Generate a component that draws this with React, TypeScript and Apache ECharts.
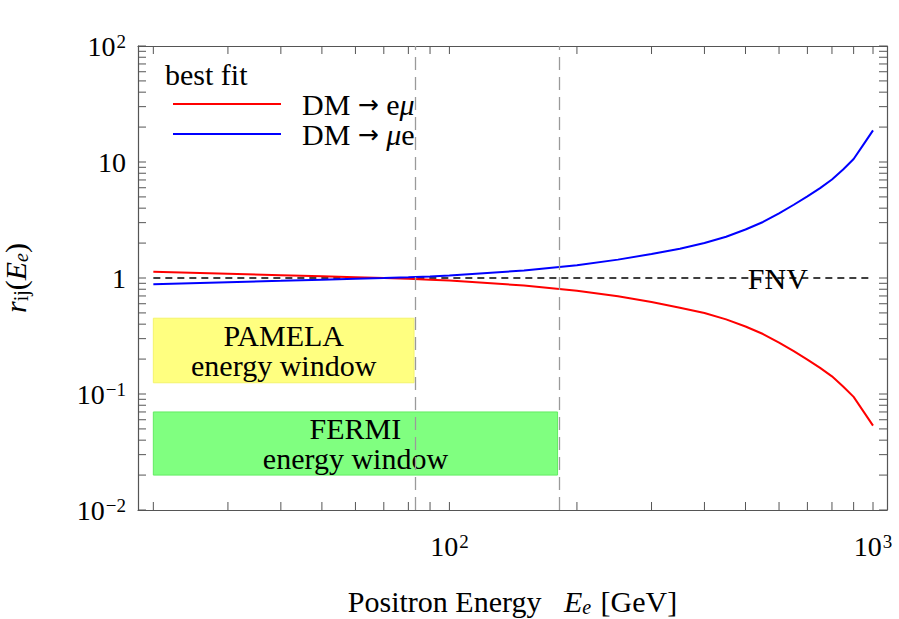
import React, { useEffect, useRef } from "react";
import * as echarts from "echarts";

// ---- data ----
const ENERGY_GEV = [20, 30, 40, 50, 60, 70, 80, 90, 100, 150, 200, 250, 300, 350, 400, 450, 500, 550, 600, 650, 700, 750, 800, 850, 900, 950, 1000];
const RATIO_E_MU = [1.13, 1.088, 1.058, 1.035, 1.016, 1.0, 0.985, 0.968, 0.952, 0.862, 0.775, 0.695, 0.62, 0.555, 0.5, 0.44, 0.382, 0.329, 0.277, 0.234, 0.198, 0.168, 0.142, 0.116, 0.0944, 0.0705, 0.0534];
const RATIO_MU_E = [0.885, 0.92, 0.945, 0.968, 0.986, 1.0, 1.015, 1.032, 1.05, 1.16, 1.29, 1.44, 1.61, 1.79, 2.0, 2.27, 2.62, 3.04, 3.61, 4.28, 5.06, 5.95, 7.06, 8.61, 10.6, 14.2, 18.75];

const FNV_ENERGY = [20, 1000];
const FNV_LEVEL = 1;
const FNV_LABEL_AT = 596;

const PAMELA_E = [20, 82.5];
const PAMELA_R = [0.125, 0.45];
const FERMI_E = [20, 180];
const FERMI_R = [0.02, 0.07];
const WINDOW_EDGES = [82.5, 180];

const X_RANGE = [18.4, 1079];
const Y_RANGE = [0.01, 100];
const X_TICKS = [20, 30, 40, 50, 60, 70, 80, 90, 100, 200, 300, 400, 500, 600, 700, 800, 900, 1000];
const X_LABELS = [100, 1000];
const Y_TICKS = [
  0.01, 0.02, 0.03, 0.04, 0.05, 0.06, 0.07, 0.08, 0.09,
  0.1, 0.2, 0.3, 0.4, 0.5, 0.6, 0.7, 0.8, 0.9,
  1, 2, 3, 4, 5, 6, 7, 8, 9,
  10, 20, 30, 40, 50, 60, 70, 80, 90, 100,
];
const Y_LABELS = [0.01, 0.1, 1, 10, 100];

const SERIES_NAMES = ["DM → eμ", "DM → μe"];
const SERIES_RICH = ["{t|DM }{a|→}{t| e}{i|μ}", "{t|DM }{a|→}{t| }{i|μ}{t|e}"];

const lg = (v: number) => Math.log10(v);
const FONT = "'Liberation Serif', 'Times New Roman', 'DejaVu Serif', serif";
const AXIS_COLOR = "#555555";
const TXT = 30;
const TICK_LEN = 8;

function powLabel(v: number) {
  const e = Math.round(v);
  if (e === 0) return "{n|1}";
  if (e === 1) return "{n|10}";
  return "{n|10}{s|" + (e < 0 ? "−" : "") + Math.abs(e) + "}";
}

const labelRich = {
  n: { fontFamily: FONT, fontSize: 28, lineHeight: 28, color: "#000", verticalAlign: "bottom" },
  s: { fontFamily: FONT, fontSize: 19, lineHeight: 19, color: "#000", verticalAlign: "top", padding: [0, 0, 14, 1] },
};

export default function App() {
  const ref = useRef<HTMLDivElement>(null);
  useEffect(() => {
    if (!ref.current) return;
    const chart = echarts.init(ref.current, undefined, { renderer: "svg" });

    const xMin = lg(X_RANGE[0]);
    const xMax = lg(X_RANGE[1]);
    const yMin = lg(Y_RANGE[0]);
    const yMax = lg(Y_RANGE[1]);

    const baseX = {
      type: "value",
      min: xMin,
      max: xMax,
      splitLine: { show: false },
      axisTick: { show: false },
      axisLine: { show: true, onZero: false, lineStyle: { color: AXIS_COLOR, width: 1.2 } },
    };
    const baseY = {
      type: "value",
      min: yMin,
      max: yMax,
      splitLine: { show: false },
      axisTick: { show: false },
      axisLine: { show: true, onZero: false, lineStyle: { color: AXIS_COLOR, width: 1.2 } },
    };

    const tickStyle = { stroke: AXIS_COLOR, lineWidth: 1 };

    const boxLabel = (text: string) => ({
      show: true,
      position: "inside",
      formatter: text,
      fontFamily: FONT,
      fontSize: TXT,
      lineHeight: TXT,
      color: "#000",
      align: "center",
      padding: [3, 0, 0, 0],
    });

    const option: any = {
      animation: false,
      grid: { left: 138, right: 12, top: 46, bottom: 109, outerBoundsMode: "none", containLabel: false },
      xAxis: [
        {
          ...baseX,
          position: "bottom",
          axisLabel: {
            show: true,
            margin: 22,
            customValues: X_LABELS.map(lg),
            formatter: (v: number) => powLabel(v),
            rich: labelRich,
          },
          name: "{t|Positron Energy   }{i|E}{sub|e}{t| [GeV]}",
          nameLocation: "middle",
          nameGap: 75,
          nameTextStyle: {
            rich: {
              t: { fontFamily: FONT, fontSize: TXT, lineHeight: 32, color: "#000" },
              i: { fontFamily: FONT, fontSize: TXT, lineHeight: 32, fontStyle: "italic", color: "#000" },
              sub: { fontFamily: FONT, fontSize: 20, lineHeight: 20, fontStyle: "italic", color: "#000", verticalAlign: "bottom", padding: [0, 2, 0, 0] },
            },
          },
        },
        { ...baseX, position: "top", axisLabel: { show: false } },
      ],
      yAxis: [
        {
          ...baseY,
          position: "left",
          axisLabel: {
            show: true,
            margin: 12,
            customValues: Y_LABELS.map(lg),
            formatter: (v: number) => powLabel(v),
            rich: labelRich,
          },
          name: "{i|r}{sub|ij}{t|(}{i|E}{subi|e}{t|)}",
          nameLocation: "middle",
          nameRotate: 90,
          nameGap: 107,
          nameTextStyle: {
            rich: {
              t: { fontFamily: FONT, fontSize: TXT, lineHeight: 32, color: "#000" },
              i: { fontFamily: FONT, fontSize: TXT, lineHeight: 32, fontStyle: "italic", color: "#000" },
              sub: { fontFamily: FONT, fontSize: 20, lineHeight: 20, color: "#000", verticalAlign: "bottom" },
              subi: { fontFamily: FONT, fontSize: 20, lineHeight: 20, fontStyle: "italic", color: "#000", verticalAlign: "bottom" },
            },
          },
        },
        { ...baseY, position: "right", axisLabel: { show: false } },
      ],
      legend: {
        data: SERIES_NAMES,
        orient: "vertical",
        left: 173,
        top: 89,
        padding: 0,
        itemGap: 0,
        itemWidth: 108,
        itemHeight: 2,
        icon: "rect",
        selectedMode: false,
        formatter: (name: string) => SERIES_RICH[SERIES_NAMES.indexOf(name)],
        textStyle: {
          fontFamily: FONT,
          fontSize: TXT,
          lineHeight: 29,
          color: "#000",
          padding: [0, 0, 0, 16],
          rich: {
            t: { fontFamily: FONT, fontSize: TXT, lineHeight: 29, color: "#000" },
            i: { fontFamily: FONT, fontSize: TXT, lineHeight: 29, fontStyle: "italic", color: "#000" },
            a: { fontFamily: "'DejaVu Sans', sans-serif", fontSize: 25, lineHeight: 29, color: "#000" },
          },
        },
      },
      graphic: [
        {
          type: "text",
          left: 165,
          top: 59,
          style: { text: "best fit", font: TXT + "px " + FONT, fill: "#000" },
        },
      ],
      series: [
        {
          name: "xTicks",
          type: "custom",
          silent: true,
          clip: false,
          z: 4,
          data: X_TICKS.map((e) => [lg(e), yMin]),
          renderItem: (_params: any, api: any) => {
            const x = api.value(0);
            const b = api.coord([x, yMin]);
            const t = api.coord([x, yMax]);
            return {
              type: "group",
              children: [
                { type: "line", shape: { x1: b[0], y1: b[1], x2: b[0], y2: b[1] - TICK_LEN }, style: tickStyle },
                { type: "line", shape: { x1: t[0], y1: t[1], x2: t[0], y2: t[1] + TICK_LEN }, style: tickStyle },
              ],
            };
          },
        },
        {
          name: "yTicks",
          type: "custom",
          silent: true,
          clip: false,
          z: 4,
          data: Y_TICKS.map((r) => [xMin, lg(r)]),
          renderItem: (_params: any, api: any) => {
            const y = api.value(1);
            const l = api.coord([xMin, y]);
            const r = api.coord([xMax, y]);
            return {
              type: "group",
              children: [
                { type: "line", shape: { x1: l[0], y1: l[1], x2: l[0] + TICK_LEN, y2: l[1] }, style: tickStyle },
                { type: "line", shape: { x1: r[0], y1: r[1], x2: r[0] - TICK_LEN, y2: r[1] }, style: tickStyle },
              ],
            };
          },
        },
        {
          name: "FNV",
          type: "line",
          z: 2,
          symbol: "none",
          silent: true,
          data: FNV_ENERGY.map((e) => [lg(e), lg(FNV_LEVEL)]),
          lineStyle: { color: "#000", width: 1.5, type: [7, 5] },
          markArea: {
            silent: true,
            z: 1,
            data: [
              [
                {
                  xAxis: lg(PAMELA_E[0]),
                  yAxis: lg(PAMELA_R[0]),
                  itemStyle: { color: "#ffff80", borderColor: "#f4f46a", borderWidth: 1 },
                  label: boxLabel("PAMELA\nenergy window"),
                },
                { xAxis: lg(PAMELA_E[1]), yAxis: lg(PAMELA_R[1]) },
              ],
              [
                {
                  xAxis: lg(FERMI_E[0]),
                  yAxis: lg(FERMI_R[0]),
                  itemStyle: { color: "#80ff80", borderColor: "#62ec62", borderWidth: 1 },
                  label: boxLabel("FERMI\nenergy window"),
                },
                { xAxis: lg(FERMI_E[1]), yAxis: lg(FERMI_R[1]) },
              ],
            ],
          },
          markLine: {
            silent: true,
            symbol: "none",
            label: { show: false },
            lineStyle: { color: "#9a9a9a", width: 1.3, type: [13, 7] },
            data: WINDOW_EDGES.map((e) => ({ xAxis: lg(e) })),
          },
          markPoint: {
            silent: true,
            symbol: "circle",
            symbolSize: 0,
            label: {
              show: true,
              position: "inside",
              formatter: "FNV",
              fontFamily: FONT,
              fontSize: TXT,
              color: "#000",
            },
            data: [{ coord: [lg(FNV_LABEL_AT), lg(FNV_LEVEL)] }],
          },
        },
        {
          name: SERIES_NAMES[0],
          type: "line",
          z: 3,
          symbol: "none",
          color: "#ff0000",
          lineStyle: { color: "#ff0000", width: 2 },
          data: ENERGY_GEV.map((e, i) => [lg(e), lg(RATIO_E_MU[i])]),
        },
        {
          name: SERIES_NAMES[1],
          type: "line",
          z: 3,
          symbol: "none",
          color: "#0000ff",
          lineStyle: { color: "#0000ff", width: 2 },
          data: ENERGY_GEV.map((e, i) => [lg(e), lg(RATIO_MU_E[i])]),
        },
      ],
    };

    chart.setOption(option);
    return () => chart.dispose();
  }, []);

  return (
    <div
      ref={ref}
      style={{ position: "fixed", left: 0, top: 0, width: 899, height: 619, background: "#fff" }}
    />
  );
}
